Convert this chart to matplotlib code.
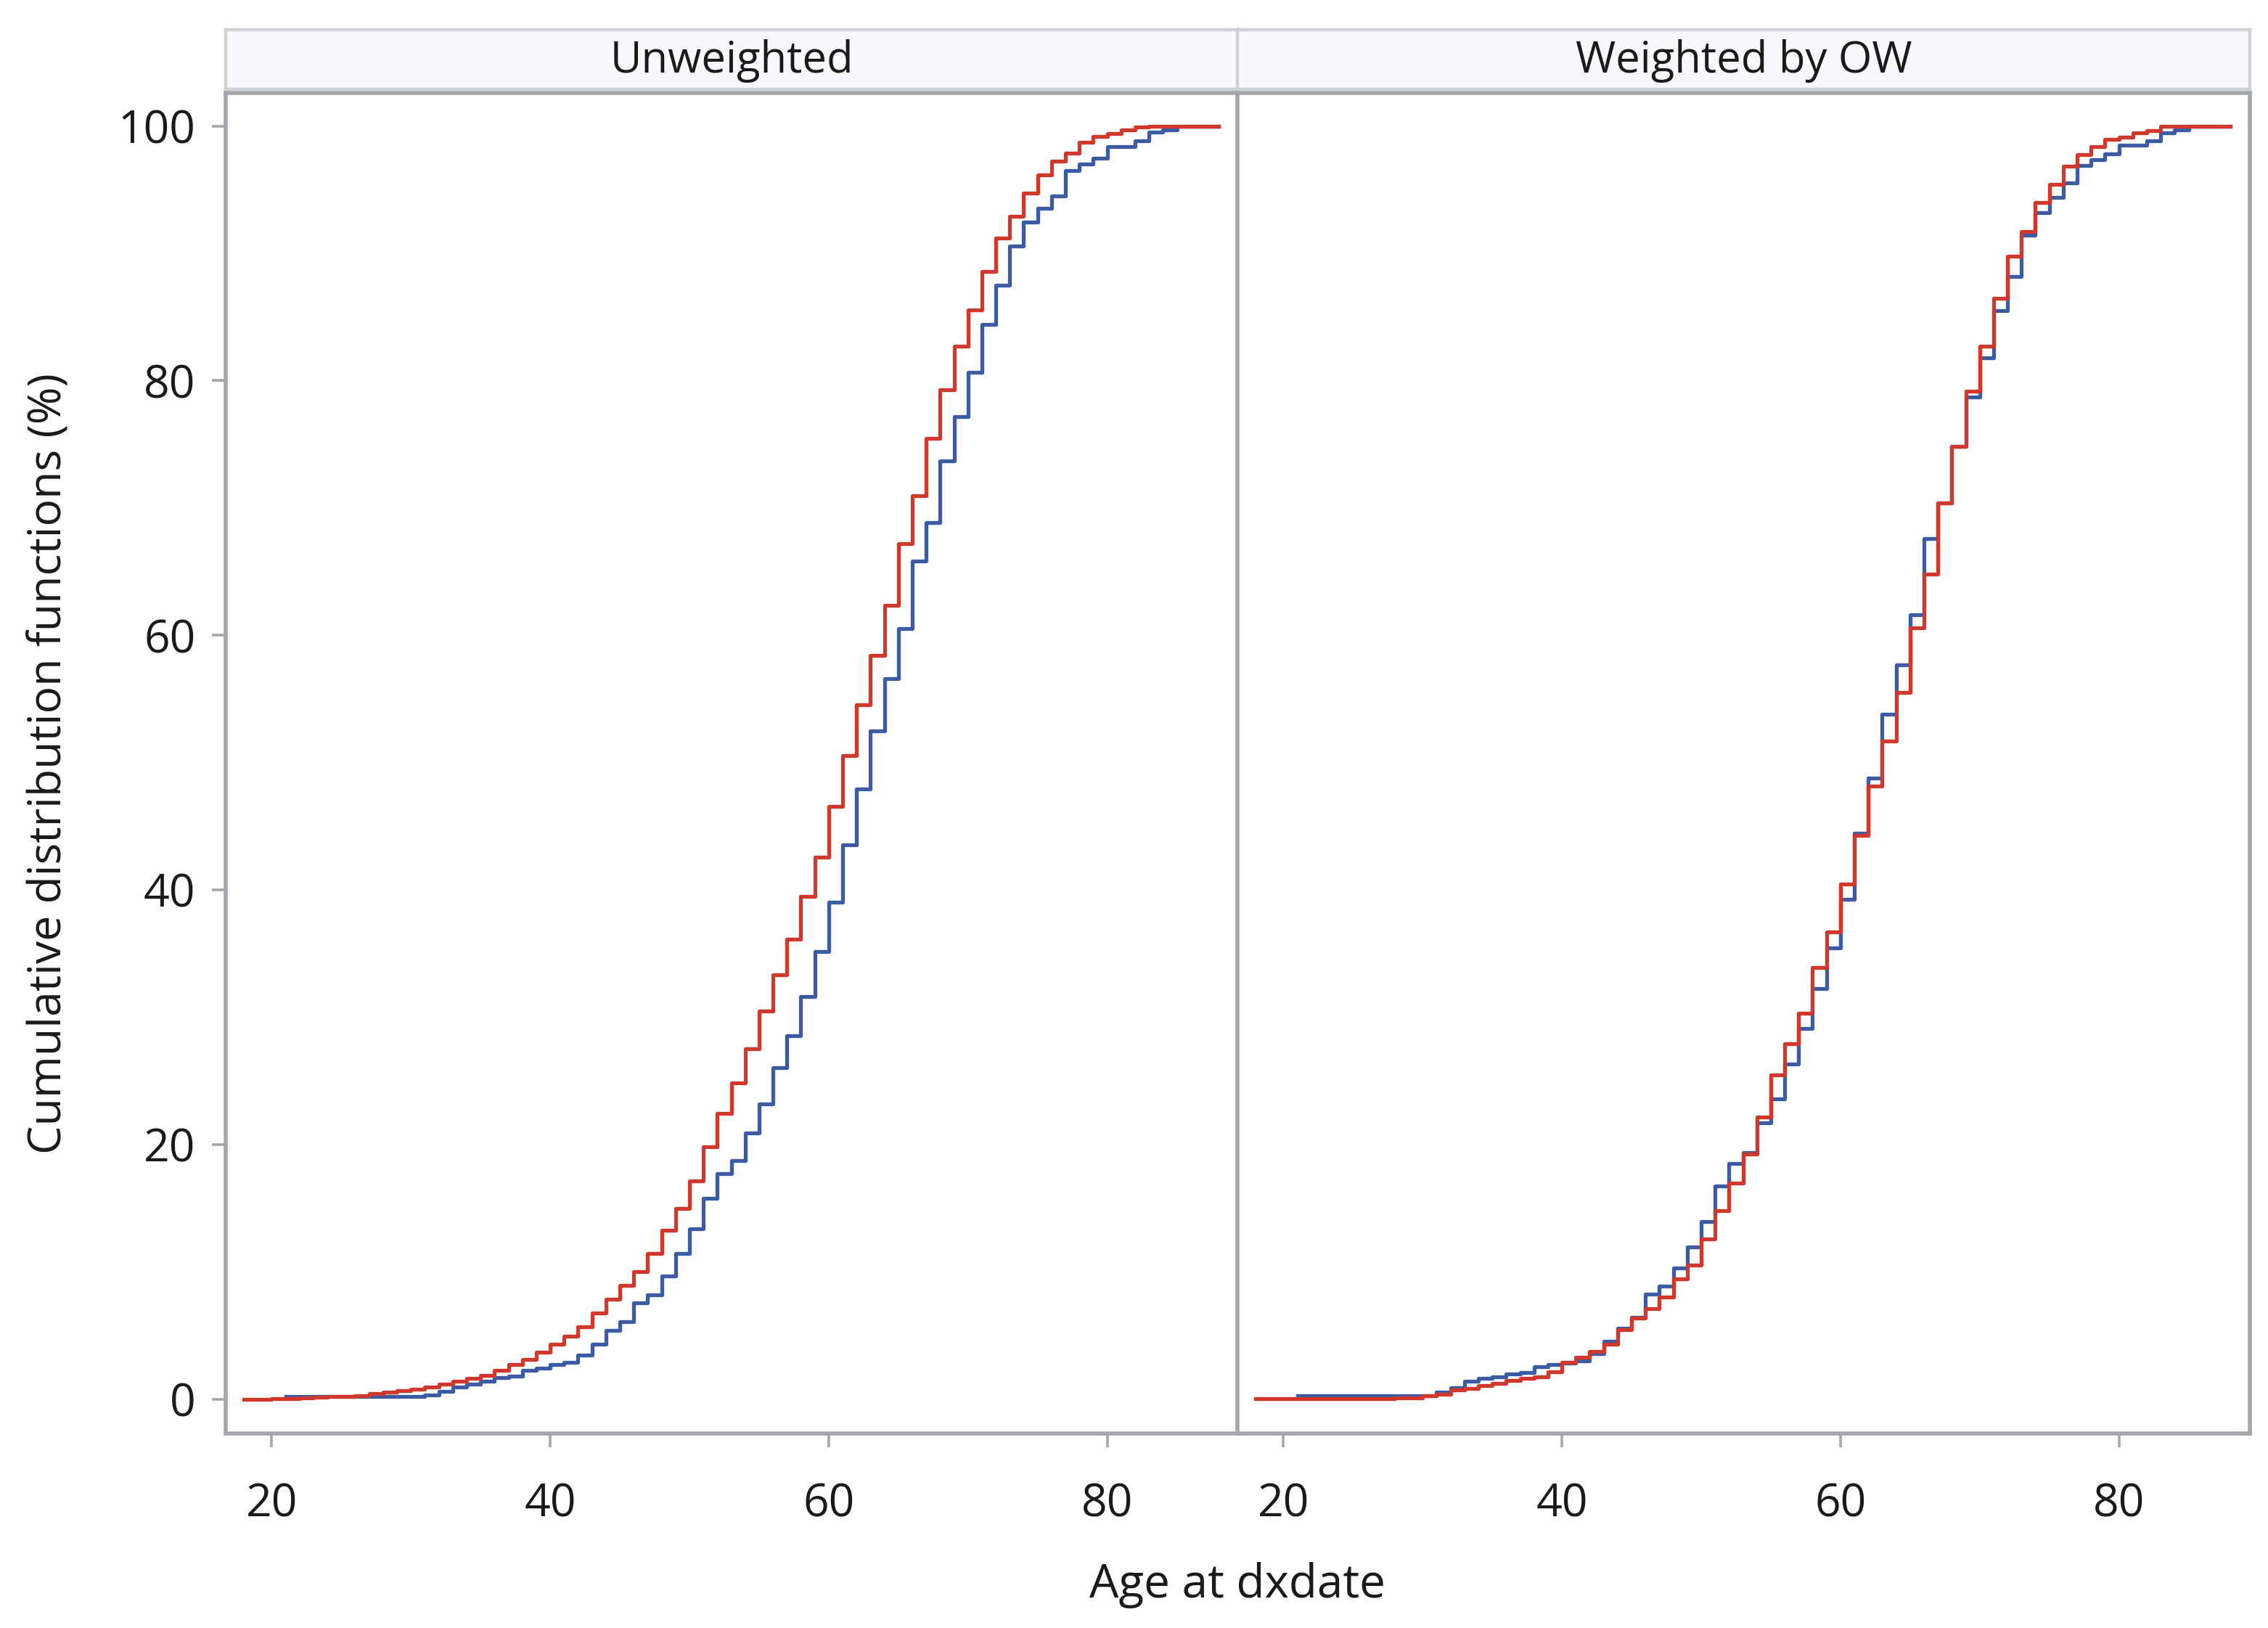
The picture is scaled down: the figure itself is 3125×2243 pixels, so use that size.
import matplotlib.pyplot as plt

plt.rcParams['font.family'] = ['Open Sans', 'DejaVu Sans']

# ages at which each step starts (ECDF by integer age)
ages_red = list(range(18, 89))
ages_blue = list(range(21, 89))

# Unweighted panel
unw_red = [0.0, 0.02, 0.05, 0.05, 0.1, 0.15, 0.2, 0.25, 0.3, 0.45,          # 18-27
           0.55, 0.7, 0.8, 0.97, 1.18, 1.41, 1.65, 1.9, 2.3, 2.74,          # 28-37
           3.12, 3.72, 4.35, 4.97, 5.68, 6.76, 7.86, 8.96, 10.05, 11.47,    # 38-47
           13.28, 14.99, 17.17, 19.83, 22.47, 24.87, 27.54, 30.47, 33.34, 36.11,  # 48-57
           39.5, 42.55, 46.57, 50.56, 54.56, 58.44, 62.36, 67.2, 70.94, 75.46,    # 58-67
           79.28, 82.72, 85.57, 88.57, 91.19, 92.9, 94.76, 96.18, 97.22, 97.89,   # 68-77
           98.75, 99.2, 99.4, 99.7, 99.9, 100, 100, 100, 100, 100,               # 78-87
           100]                                                                 # 88
unw_blue = [0.2, 0.2, 0.2, 0.2, 0.2, 0.2, 0.2, 0.2, 0.2, 0.2,               # 21-30
            0.36, 0.65, 0.97, 1.22, 1.44, 1.69, 1.82, 2.26, 2.45, 2.74,     # 31-40
            2.93, 3.5, 4.35, 5.39, 6.12, 7.58, 8.2, 9.67, 11.47, 13.37,     # 41-50
            15.8, 17.7, 18.76, 20.93, 23.22, 26.02, 28.56, 31.66, 35.17, 39.04,   # 51-60
            43.57, 47.94, 52.47, 56.6, 60.51, 65.85, 68.85, 73.69, 77.2, 80.68,   # 61-70
            84.42, 87.47, 90.55, 92.44, 93.52, 94.51, 96.52, 97.04, 97.48, 98.36, # 71-80
            98.36, 98.84, 99.5, 99.7, 100, 100, 100, 100]                         # 81-88

# Weighted by OW panel
ow_red = [0.05, 0.05, 0.05, 0.05, 0.05, 0.05, 0.05, 0.05, 0.05, 0.05,      # 18-27
          0.11, 0.11, 0.3, 0.42, 0.74, 0.87, 1.06, 1.25, 1.5, 1.63,         # 28-37
          1.75, 2.17, 2.89, 3.3, 3.78, 4.35, 5.49, 6.38, 7.1, 8.02,         # 38-47
          9.48, 10.52, 12.61, 14.8, 16.98, 19.28, 22.2, 25.5, 27.93, 30.34, # 48-57
          33.9, 36.7, 40.46, 44.28, 48.15, 51.71, 55.5, 60.6, 64.8, 70.38,  # 58-67
          74.83, 79.16, 82.72, 86.46, 89.76, 91.7, 94.0, 95.42, 96.85, 97.74,  # 68-77
          98.37, 98.94, 99.13, 99.45, 99.64, 100, 100, 100, 100, 100,          # 78-87
          100]                                                                 # 88
ow_blue = [0.3, 0.3, 0.3, 0.3, 0.3, 0.3, 0.3, 0.3, 0.3, 0.3,               # 21-30
           0.55, 0.93, 1.41, 1.63, 1.75, 1.98, 2.13, 2.58, 2.74, 2.83,      # 31-40
           3.02, 3.59, 4.54, 5.58, 6.44, 8.24, 8.91, 10.3, 11.95, 13.98,    # 41-50
           16.73, 18.5, 19.4, 21.69, 23.6, 26.32, 29.12, 32.25, 35.48, 39.29,    # 51-60
           44.46, 48.78, 53.8, 57.66, 61.6, 67.6, 70.38, 74.83, 78.72, 81.82,    # 61-70
           85.52, 88.18, 91.42, 93.18, 94.38, 95.52, 96.9, 97.36, 97.8, 98.5,    # 71-80
           98.5, 98.84, 99.45, 99.7, 100, 100, 100, 100]                         # 81-88

panels = [("Unweighted", unw_blue, unw_red), ("Weighted by OW", ow_blue, ow_red)]

BLUE = '#3b5ba5'
RED = '#d2372c'
FRAME = '#a3a7ab'
W, H = 3125, 2243

fig = plt.figure(figsize=(W / 200, H / 200), dpi=200)

lefts = [311, 1705]
for i, (title, blue, red) in enumerate(panels):
    x0 = lefts[i]
    ax = fig.add_axes([x0 / W, (H - 1975) / H, 1395 / W, (1975 - 128) / H])
    ax.step(ages_blue, blue, where='post', color=BLUE, lw=1.9)
    ax.step(ages_red, red, where='post', color=RED, lw=1.9)
    ax.set_xlim(16.7, 89.4)
    ax.set_ylim(-2.68, 102.6)
    ax.set_xticks([20, 40, 60, 80])
    ax.set_yticks([0, 20, 40, 60, 80, 100])
    for s in ax.spines.values():
        s.set_color(FRAME)
        s.set_linewidth(2.0)
    ax.tick_params(direction='out', length=7, width=1.3, color=FRAME,
                   labelsize=22.5, labelcolor='#1a1a1a')
    ax.tick_params(axis='x', pad=17)
    ax.tick_params(axis='y', pad=8)
    if i == 0:
        ax.set_ylabel("Cumulative distribution functions (%)", fontsize=22.5,
                      color='#1a1a1a', labelpad=23)
    else:
        ax.tick_params(axis='y', left=False, labelleft=False)

    # facet strip
    sax = fig.add_axes([x0 / W, (H - 123) / H, 1395 / W, (123 - 41) / H])
    sax.set_facecolor('#f8f9fc')
    sax.set_xticks([])
    sax.set_yticks([])
    for s in sax.spines.values():
        s.set_color('#cfd1d3')
        s.set_linewidth(1.6)
    sax.text(0.5, 0.47, title, ha='center', va='center', fontsize=21.5,
             color='#1a1a1a', transform=sax.transAxes)

fig.text(1705 / W, 1 - 2184 / H, "Age at dxdate", ha='center', va='center',
         fontsize=23, color='#1a1a1a')

fig.savefig('out.png', dpi=200, facecolor='white')
